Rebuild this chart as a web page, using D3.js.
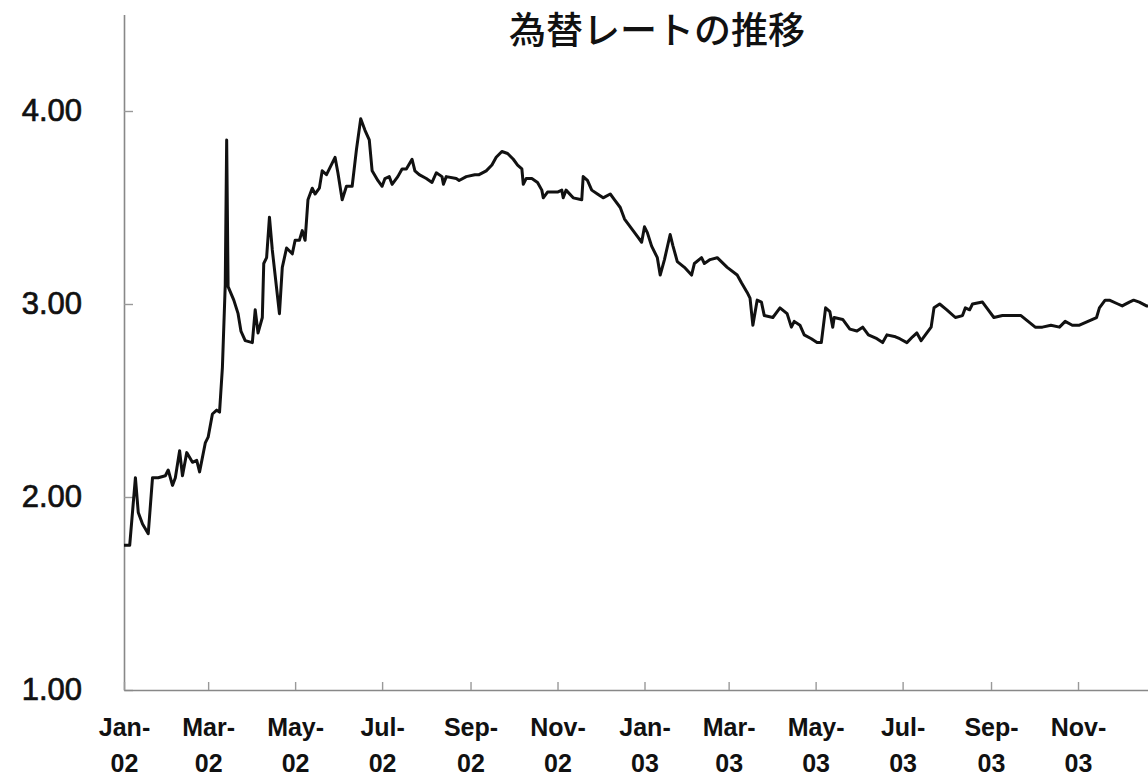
<!DOCTYPE html>
<html><head><meta charset="utf-8">
<script src="https://cdn.jsdelivr.net/npm/d3@7/dist/d3.min.js"></script>
<style>
html,body{margin:0;padding:0;background:#fff;overflow:hidden}
svg{display:block}
</style></head>
<body>
<svg id="chart" width="1148" height="777"></svg>
<script>
const title = "為替レートの推移";
const dates = [
"2002-01-01","2002-01-05","2002-01-09","2002-01-11","2002-01-14","2002-01-18","2002-01-21","2002-01-25","2002-01-30","2002-02-01",
"2002-02-04","2002-02-06","2002-02-09","2002-02-11","2002-02-14","2002-02-18","2002-02-21","2002-02-23","2002-02-27","2002-03-01",
"2002-03-04","2002-03-07","2002-03-09","2002-03-11","2002-03-13","2002-03-14","2002-03-15","2002-03-19","2002-03-22","2002-03-24",
"2002-03-27","2002-04-01","2002-04-03","2002-04-05","2002-04-08","2002-04-09","2002-04-11","2002-04-13","2002-04-15","2002-04-20",
"2002-04-22","2002-04-25","2002-04-29","2002-05-01","2002-05-04","2002-05-06","2002-05-08","2002-05-10","2002-05-13","2002-05-15",
"2002-05-18","2002-05-20","2002-05-23","2002-05-27","2002-05-29","2002-05-31","2002-06-03","2002-06-06","2002-06-10","2002-06-13",
"2002-06-16","2002-06-19","2002-06-22","2002-06-24","2002-06-28","2002-07-01","2002-07-03","2002-07-06","2002-07-08","2002-07-12",
"2002-07-15","2002-07-18","2002-07-22","2002-07-24","2002-07-27","2002-08-01","2002-08-05","2002-08-08","2002-08-12","2002-08-13",
"2002-08-15","2002-08-22","2002-08-24","2002-08-29","2002-09-04","2002-09-07","2002-09-12","2002-09-16","2002-09-19","2002-09-23",
"2002-09-27","2002-10-01","2002-10-04","2002-10-07","2002-10-08","2002-10-10","2002-10-14","2002-10-18","2002-10-21","2002-10-22",
"2002-10-25","2002-11-01","2002-11-04","2002-11-05","2002-11-07","2002-11-12","2002-11-18","2002-11-19","2002-11-22","2002-11-25",
"2002-11-29","2002-12-03","2002-12-08","2002-12-11","2002-12-15","2002-12-18","2002-12-24","2002-12-27","2002-12-30","2003-01-01",
"2003-01-03","2003-01-06","2003-01-10","2003-01-12","2003-01-15","2003-01-19","2003-01-21","2003-01-24","2003-01-29","2003-02-03",
"2003-02-05","2003-02-10","2003-02-12","2003-02-16","2003-02-21","2003-02-28","2003-03-07","2003-03-10","2003-03-14","2003-03-16",
"2003-03-18","2003-03-21","2003-03-24","2003-03-26","2003-04-01","2003-04-06","2003-04-11","2003-04-14","2003-04-16","2003-04-20",
"2003-04-23","2003-04-28","2003-05-02","2003-05-05","2003-05-08","2003-05-11","2003-05-13","2003-05-14","2003-05-20","2003-05-25",
"2003-05-30","2003-06-03","2003-06-07","2003-06-13","2003-06-17","2003-06-20","2003-06-26","2003-06-29","2003-07-04","2003-07-08",
"2003-07-11","2003-07-14","2003-07-18","2003-07-21","2003-07-23","2003-07-27","2003-08-01","2003-08-07","2003-08-12","2003-08-14",
"2003-08-17","2003-08-19","2003-08-26","2003-08-29","2003-09-03","2003-09-09","2003-09-16","2003-09-22","2003-09-27","2003-10-02",
"2003-10-07","2003-10-13","2003-10-19","2003-10-23","2003-10-28","2003-11-02","2003-11-08","2003-11-14","2003-11-16","2003-11-20",
"2003-11-23","2003-11-29","2003-12-02","2003-12-07","2003-12-10","2003-12-14","2003-12-19","2003-12-31"
];
const rates = [
1.75,1.75,2.10,1.92,1.86,1.81,2.10,2.10,2.11,2.14,
2.06,2.10,2.24,2.11,2.23,2.18,2.19,2.13,2.28,2.31,
2.43,2.45,2.44,2.67,3.10,3.85,3.09,3.02,2.95,2.86,
2.81,2.80,2.97,2.85,2.93,3.21,3.24,3.45,3.28,2.95,
3.19,3.29,3.26,3.33,3.33,3.38,3.33,3.54,3.60,3.57,
3.60,3.69,3.67,3.73,3.76,3.68,3.54,3.61,3.61,3.80,
3.96,3.90,3.85,3.69,3.64,3.61,3.65,3.66,3.62,3.66,
3.70,3.70,3.75,3.69,3.67,3.65,3.63,3.68,3.66,3.62,
3.66,3.65,3.64,3.66,3.67,3.67,3.69,3.72,3.76,3.79,
3.78,3.75,3.72,3.70,3.62,3.65,3.65,3.63,3.59,3.55,
3.58,3.58,3.59,3.55,3.59,3.55,3.54,3.66,3.64,3.59,
3.57,3.55,3.57,3.54,3.50,3.44,3.38,3.35,3.32,3.40,
3.37,3.30,3.24,3.15,3.23,3.36,3.30,3.22,3.19,3.15,
3.21,3.24,3.21,3.23,3.24,3.19,3.15,3.11,3.06,3.03,
2.89,3.02,3.01,2.94,2.93,2.98,2.95,2.88,2.91,2.89,
2.84,2.82,2.80,2.80,2.98,2.96,2.88,2.93,2.92,2.87,
2.86,2.88,2.84,2.82,2.80,2.84,2.83,2.82,2.80,2.83,
2.85,2.81,2.85,2.88,2.98,3.00,2.97,2.93,2.94,2.98,
2.97,3.00,3.01,2.98,2.93,2.94,2.94,2.94,2.91,2.88,
2.88,2.89,2.88,2.91,2.89,2.89,2.91,2.93,2.98,3.02,
3.02,3.00,2.99,3.01,3.02,3.01,2.99,2.98
];
const yTicks = [1, 2, 3, 4];
const xTickDates = ["2002-01-01","2002-03-01","2002-05-01","2002-07-01","2002-09-01","2002-11-01",
                    "2003-01-01","2003-03-01","2003-05-01","2003-07-01","2003-09-01","2003-11-01"];
const xTickMonths = ["Jan-","Mar-","May-","Jul-","Sep-","Nov-","Jan-","Mar-","May-","Jul-","Sep-","Nov-"];
const xTickYears  = ["02","02","02","02","02","02","03","03","03","03","03","03"];

(function draw() {
  const parse = d3.timeParse("%Y-%m-%d");
  const data = dates.map((d, i) => ({date: parse(d), v: rates[i]}));

  const svg = d3.select("#chart");
  const mLeft = 124, mBottom = 690, mTop = 14.5;

  const x = d3.scaleTime()
    .domain([parse("2002-01-01"), parse("2004-01-01")])
    .range([mLeft, 1165]);
  const y = d3.scaleLinear().domain([1, 4.5]).range([mBottom, mTop]);

  // title
  svg.append("text")
    .attr("x", 657).attr("y", 44)
    .attr("text-anchor", "middle")
    .attr("font-family", "'Noto Sans CJK JP', sans-serif")
    .attr("font-weight", 500)
    .attr("font-size", 37)
    .attr("fill", "#111")
    .text(title);

  // y axis
  const yAxis = d3.axisLeft(y)
    .tickValues(yTicks)
    .tickFormat(d3.format(".2f"))
    .tickSizeInner(-9).tickSizeOuter(0)
    .tickPadding(42);
  const gy = svg.append("g").attr("transform", `translate(${mLeft},0)`).call(yAxis);
  gy.select(".domain").attr("stroke", "#888").attr("stroke-width", 1.6);
  gy.selectAll(".tick line").attr("stroke", "#999").attr("stroke-width", 1.4);
  gy.selectAll("text")
    .attr("font-family", "'Liberation Sans', Arial, sans-serif")
    .attr("font-size", 31)
    .attr("fill", "#111")
    .attr("stroke", "#111")
    .attr("stroke-width", 0.7);

  // x axis
  const xAxis = d3.axisBottom(x)
    .tickValues(xTickDates.map(parse))
    .tickFormat(() => "")
    .tickSizeInner(-8).tickSizeOuter(0);
  const gx = svg.append("g").attr("transform", `translate(0,${mBottom})`).call(xAxis);
  gx.select(".domain").attr("stroke", "#888").attr("stroke-width", 1.6);
  gx.selectAll(".tick line").attr("stroke", "#999").attr("stroke-width", 1.4);
  gx.selectAll(".tick text").each(function(d, i) {
    const t = d3.select(this)
      .attr("y", 0).attr("dy", null)
      .attr("font-family", "'Liberation Sans', Arial, sans-serif")
      .attr("font-weight", "bold")
      .attr("font-size", 25)
      .attr("fill", "#111");
    t.append("tspan").attr("x", 0).attr("y", 46).text(xTickMonths[i]);
    t.append("tspan").attr("x", 0).attr("y", 82).text(xTickYears[i]);
  });

  // line
  const line = d3.line().x(d => x(d.date)).y(d => y(d.v));
  svg.append("path")
    .datum(data)
    .attr("fill", "none")
    .attr("stroke", "#111")
    .attr("stroke-width", 3)
    .attr("stroke-linejoin", "round")
    .attr("d", line);
})();
</script>
</body></html>
